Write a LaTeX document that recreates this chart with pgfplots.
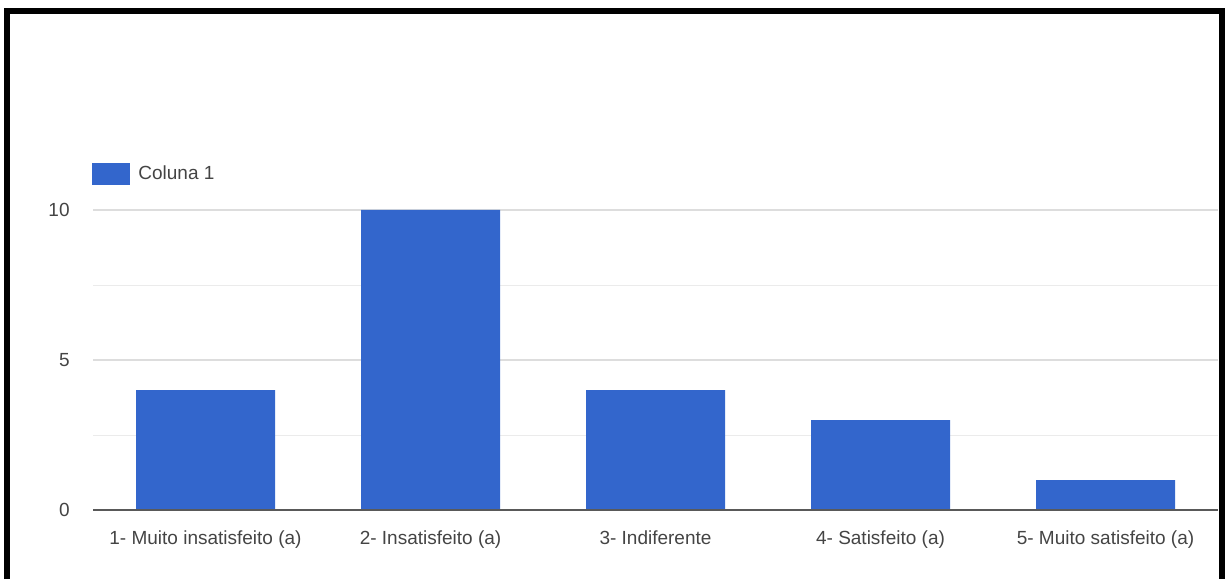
\documentclass[border=0pt]{standalone}
\usepackage{pgfplots}
\pgfplotsset{compat=1.18}
\usepackage{fontspec}
\setmainfont{Liberation Sans}
\definecolor{barblue}{HTML}{3366CC}
\definecolor{txt}{HTML}{444444}
\definecolor{gridmaj}{HTML}{DDDDDD}
\definecolor{gridmin}{HTML}{EBEBEB}
\pgfplotstableread{
x val
0 4
1 10
2 4
3 3
4 1
}\datatable
\begin{document}
\begin{tikzpicture}
\path[use as bounding box] (0,0) rectangle (613pt,289.5pt);
\begin{axis}[
  at={(46.5pt,34.5pt)}, anchor=south west,
  scale only axis, width=562.5pt, height=187.5pt,
  xmin=-0.5, xmax=4.5, ymin=0, ymax=12.5,
  xtick=data,
  xticklabels={1- Muito insatisfeito (a),2- Insatisfeito (a),3- Indiferente,4- Satisfeito (a),5- Muito satisfeito (a)},
  ytick={0,5,10}, minor ytick={2.5,7.5},
  ymajorgrids, yminorgrids,
  major grid style={gridmaj, line width=0.6pt},
  minor grid style={gridmin, line width=0.5pt},
  axis line style={draw=none},
  major tick length=0pt, minor tick length=0pt,
  tick style={draw=none},
  /pgf/number format/assume math mode=true,
  ticklabel style={font=\fontsize{9.5pt}{11pt}\selectfont, text=txt},
  yticklabel style={inner sep=0pt, xshift=-11.5pt},
  xticklabel style={inner sep=0pt, yshift=-10pt},
  legend style={draw=none, fill=none, at={(-0.0009,0.896)}, anchor=west, inner sep=0pt, font=\fontsize{9.5pt}{10pt}\selectfont, text=txt},
  legend image code/.code={\fill[barblue] (0pt,-5.25pt) rectangle (19pt,5.25pt);},
  legend cell align=left,
]
\addplot[ybar, bar width=69.5pt, fill=barblue, draw=none, bar shift=0pt] table[x=x,y=val]{\datatable};
\addlegendentry{\hspace{2pt}Coluna 1}
\draw[color=black!65, line width=1pt] (axis cs:-0.5,0) -- (axis cs:4.5,0);
\end{axis}
\draw[black, line width=3pt, miter limit=10] (3.25pt,0pt) -- (3.25pt,284pt) -- (611pt,284pt) -- (611pt,0pt);
\end{tikzpicture}
\end{document}
